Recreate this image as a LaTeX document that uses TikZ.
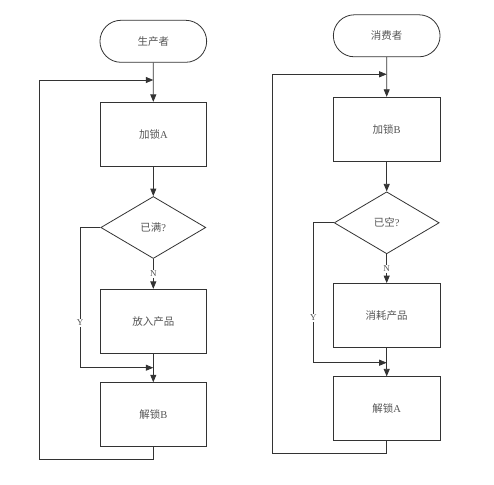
\documentclass[tikz,border=0pt]{standalone}
\usepackage{fontspec}
\setmainfont{Liberation Serif}
\newfontfamily\cjk{Noto Sans CJK SC}
\usetikzlibrary{shapes.geometric,shapes.misc,arrows.meta}
\definecolor{ln}{HTML}{333333}
\definecolor{tx}{HTML}{555555}
\tikzset{
  base/.style={draw=ln,line width=0.8pt,text=tx,font=\fontsize{10.5}{12}\selectfont,inner sep=0pt},
  term/.style={base,rounded rectangle,minimum width=106.7pt,minimum height=42pt},
  proc/.style={base,rectangle,minimum width=106.7pt,minimum height=64pt},
  dec/.style={base,diamond,minimum width=105pt,minimum height=62pt},
  lbl/.style={fill=white,text=tx,inner sep=1pt,font=\fontsize{9}{10}\selectfont},
  conn/.style={draw=ln,line width=0.8pt},
  arr/.style={conn,-{Triangle[length=7.5pt,width=6pt]}}
}
\begin{document}
\begin{tikzpicture}[x=1pt,y=-1pt]
\useasboundingbox[fill=white] (0,0) rectangle (494,484);
% left column
\node[term] (t1) at (153.3,41.3) {\cjk 生产者};
\node[proc] (a1) at (153.3,134.3) {{\cjk 加锁}A};
\node[dec]  (d1) at (153.3,227.5) {{\cjk 已满}?};
\node[proc] (p1) at (153.3,321.3) {\cjk 放入产品};
\node[proc] (u1) at (153.3,414.7) {{\cjk 解锁}B};
\coordinate (j1) at (153.3,80);
\coordinate (lt1) at (39,80);
\coordinate (lb1) at (39,459.3);
\coordinate (yc1) at (80,367.7);
\coordinate (yj1) at (153.3,367.7);
\draw[arr] (t1) -- (a1);
\draw[arr] (a1) -- (d1);
\draw[arr] (d1.south) -- node[lbl] (n1) {N} (p1.north);
\draw[arr] (p1) -- (u1);
\draw[arr] (d1.west) -| node[lbl,pos=0.84] (y1) {Y} (yc1) -- (yj1);
\draw[arr] (u1.south) |- (lb1) -- (lt1) -- (j1);
% right column
\node[term] (t2) at (386.7,35.8) {\cjk 消费者};
\node[proc] (a2) at (386.7,129.2) {{\cjk 加锁}B};
\node[dec]  (d2) at (386.7,222.8) {{\cjk 已空}?};
\node[proc] (p2) at (386.7,315.5) {\cjk 消耗产品};
\node[proc] (u2) at (386.7,408.8) {{\cjk 解锁}A};
\coordinate (j2) at (386.7,74.3);
\coordinate (lt2) at (272.3,74.3);
\coordinate (lb2) at (272.3,453.3);
\coordinate (yc2) at (313.3,362.7);
\coordinate (yj2) at (386.7,362.7);
\draw[arr] (t2) -- (a2);
\draw[arr] (a2) -- (d2);
\draw[arr] (d2.south) -- node[lbl] (n2) {N} (p2.north);
\draw[arr] (p2) -- (u2);
\draw[arr] (d2.west) -| node[lbl,pos=0.84] (y2) {Y} (yc2) -- (yj2);
\draw[arr] (u2.south) |- (lb2) -- (lt2) -- (j2);
\end{tikzpicture}
\end{document}
